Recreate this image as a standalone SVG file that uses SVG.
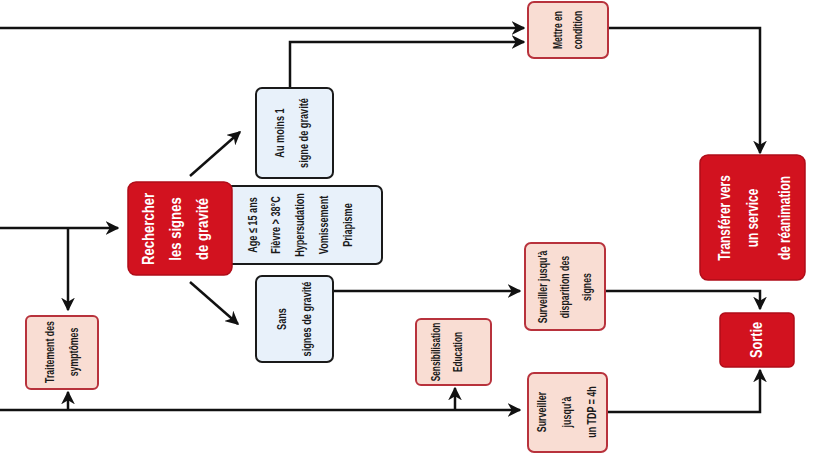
<svg xmlns="http://www.w3.org/2000/svg" width="821" height="461" viewBox="0 0 821 461">
<defs>
<marker id="ah" viewBox="0 0 10 10" refX="9" refY="5" markerWidth="5.5" markerHeight="5.5" orient="auto" markerUnits="strokeWidth">
<path d="M0,0 L10,5 L0,10 L3,5 z" fill="#111"/>
</marker>
<style>
.red{fill:#d2121f;stroke:#b00c18;stroke-width:1.5}
.pink{fill:#f9ddd3;stroke:#b8323c;stroke-width:2}
.blue{fill:#e8f1fa;stroke:#1a1a1a;stroke-width:2}
.t{font-family:"Liberation Sans",Arial,sans-serif;text-anchor:middle;fill:#1a1a1a;font-weight:bold}
.w{fill:#ffffff}
.c line,.c polyline{fill:none;stroke:#111;stroke-width:2.5;marker-end:url(#ah)}
</style>
</defs>
<rect width="821" height="461" fill="#ffffff"/>

<g class="c" id="connectors">
<line x1="0" y1="28" x2="524" y2="28"/>
<polyline points="290,88 290,42 524,42"/>
<polyline points="608,28 760,28 760,153"/>
<line x1="0" y1="228" x2="118" y2="228"/>
<line x1="68" y1="228" x2="68" y2="310"/>
<line x1="190" y1="176" x2="240" y2="132"/>
<line x1="190" y1="282" x2="238" y2="324"/>
<line x1="333" y1="291" x2="520" y2="291"/>
<polyline points="605,291 760,291 760,309"/>
<line x1="0" y1="410" x2="520" y2="410"/>
<line x1="68" y1="410" x2="68" y2="392"/>
<line x1="455" y1="410" x2="455" y2="388"/>
<polyline points="608,412 760,412 760,370"/>
</g>

<g id="mettre">
<rect class="pink" x="528" y="2" width="80" height="56" rx="6"/>
<g transform="translate(568,30) rotate(-90) scale(0.66,1)">
<text class="t" x="0" y="-6" font-size="13">Mettre en</text>
<text class="t" x="0" y="14" font-size="13">condition</text>
</g>
</g>

<g id="aumoins">
<rect class="blue" x="256" y="88" width="77" height="90" rx="6"/>
<g transform="translate(294,133) rotate(-90) scale(0.68,1)">
<text class="t" x="0" y="-10" font-size="13.5">Au moins 1</text>
<text class="t" x="0" y="14" font-size="13.5">signe de gravité</text>
</g>
</g>

<g id="signes">
<rect class="blue" x="226" y="186" width="156" height="78" rx="6"/>
<g transform="translate(305,225) rotate(-90) scale(0.7,1)">
<text class="t" x="0" y="-48" font-size="13">Age ≤ 15 ans</text>
<text class="t" x="0" y="-25" font-size="13">Fièvre &gt; 38°C</text>
<text class="t" x="0" y="-1" font-size="13">Hypersudation</text>
<text class="t" x="0" y="23" font-size="13">Vomissement</text>
<text class="t" x="0" y="47" font-size="13">Priapisme</text>
</g>
</g>

<g id="rechercher">
<rect class="red" x="128" y="182" width="104" height="93" rx="8"/>
<g transform="translate(180,229) rotate(-90) scale(0.82,1)">
<text class="t w" x="0" y="-26" font-size="16">Rechercher</text>
<text class="t w" x="0" y="1" font-size="16">les signes</text>
<text class="t w" x="0" y="28" font-size="16">de gravité</text>
</g>
</g>

<g id="sans">
<rect class="blue" x="256" y="276" width="77" height="86" rx="6"/>
<g transform="translate(294,319) rotate(-90) scale(0.68,1)">
<text class="t" x="0" y="-8" font-size="13.5">Sans</text>
<text class="t" x="0" y="17" font-size="13.5">signes de gravité</text>
</g>
</g>

<g id="surveiller1">
<rect class="pink" x="525" y="243" width="80" height="87" rx="6"/>
<g transform="translate(565,287) rotate(-90) scale(0.65,1)">
<text class="t" x="0" y="-18" font-size="13.5">Surveiller jusqu'à</text>
<text class="t" x="0" y="4" font-size="13.5">disparition des</text>
<text class="t" x="0" y="26" font-size="13.5">signes</text>
</g>
</g>

<g id="transferer">
<rect class="red" x="700" y="155" width="105" height="125" rx="8"/>
<g transform="translate(752,218) rotate(-90) scale(0.74,1)">
<text class="t w" x="0" y="-22" font-size="16">Transférer vers</text>
<text class="t w" x="0" y="6" font-size="16">un service</text>
<text class="t w" x="0" y="38" font-size="16">de réanimation</text>
</g>
</g>

<g id="sortie">
<rect class="red" x="720" y="313" width="74" height="54" rx="5"/>
<g transform="translate(757,340) rotate(-90) scale(0.8,1)">
<text class="t w" x="0" y="5" font-size="16">Sortie</text>
</g>
</g>

<g id="sensibilisation">
<rect class="pink" x="416" y="319" width="75" height="66" rx="5"/>
<g transform="translate(454,352) rotate(-90) scale(0.64,1)">
<text class="t" x="0" y="-14" font-size="13">Sensibilisation</text>
<text class="t" x="0" y="8" font-size="13">Education</text>
</g>
</g>

<g id="surveiller2">
<rect class="pink" x="528" y="373" width="79" height="79" rx="6"/>
<g transform="translate(567,412) rotate(-90) scale(0.66,1)">
<text class="t" x="0" y="-21" font-size="13.5">Surveiller</text>
<text class="t" x="0" y="4" font-size="13.5">jusqu'à</text>
<text class="t" x="0" y="29" font-size="13.5">un TDP = 4h</text>
</g>
</g>

<g id="traitement">
<rect class="pink" x="26" y="316" width="72" height="73" rx="5"/>
<g transform="translate(62,352) rotate(-90) scale(0.65,1)">
<text class="t" x="0" y="-8" font-size="13.5">Traitement des</text>
<text class="t" x="0" y="16" font-size="13.5">symptômes</text>
</g>
</g>
</svg>
